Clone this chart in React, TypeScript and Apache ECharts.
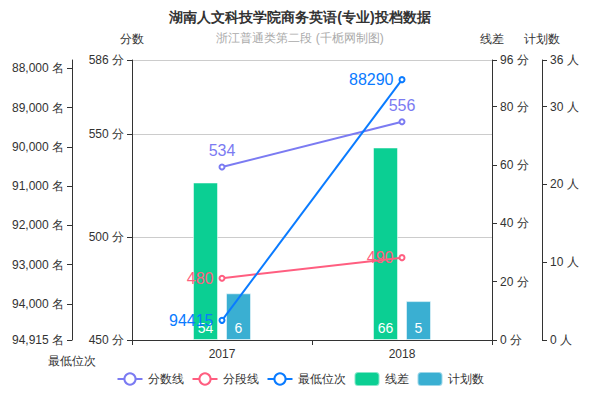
import React, { useEffect, useRef } from "react";
import * as echarts from "echarts";

const categories = ["2017", "2018"];
const scoreLine = [534, 556];
const segmentLine = [480, 490];
const minRank = [94415, 88290];
const lineDiff = [54, 66];
const planCount = [6, 5];

const rankMin = 87790;
const rankMax = 94915;
const rankTicks = [88000, 89000, 90000, 91000, 92000, 93000, 94000, 94915];

const title = "湖南人文科技学院商务英语(专业)投档数据";
const subtitle = "浙江普通类第二段 (千栀网制图)";

export default function App() {
  const ref = useRef<HTMLDivElement>(null);
  useEffect(() => {
    if (!ref.current) return;
    const chart = echarts.init(ref.current, undefined, { renderer: "svg" });
    const axisLine = { show: true, lineStyle: { color: "#333" } };
    const axisLabelBase = { color: "#333", fontSize: 12 };
    chart.setOption({
      animation: false,
      textStyle: { fontFamily: "sans-serif" },
      title: {
        text: title,
        subtext: subtitle,
        left: "center",
        top: 5,
        itemGap: 8,
        textStyle: { fontSize: 14, fontWeight: "bold", color: "#333" },
        subtextStyle: { fontSize: 12, color: "#aaa" },
      },
      legend: {
        bottom: 8,
        left: "center",
        itemWidth: 25,
        itemHeight: 14,
        textStyle: { color: "#333", fontSize: 12 },
        data: ["分数线", "分段线", "最低位次", "线差", "计划数"],
      },
      grid: { left: 132, right: 108, top: 60, bottom: 60 },
      xAxis: {
        type: "category",
        data: categories,
        axisLine,
        axisTick: { show: true, lineStyle: { color: "#333" } },
        axisLabel: { ...axisLabelBase },
      },
      yAxis: [
        {
          type: "value",
          name: "分数",
          position: "left",
          min: 450,
          max: 586,
          interval: 50,
          nameTextStyle: { color: "#333", fontSize: 12 },
          axisLine,
          axisTick: { show: true },
          axisLabel: { ...axisLabelBase, formatter: "{value} 分" },
          splitLine: { show: true, lineStyle: { color: "#ccc" } },
        },
        {
          type: "value",
          name: "最低位次",
          position: "left",
          offset: 60,
          inverse: true,
          min: rankMin,
          max: rankMax,
          nameLocation: "end",
          nameGap: 15,
          nameTextStyle: { color: "#333", fontSize: 12 },
          axisLine,
          axisTick: { show: true, customValues: rankTicks },
          axisLabel: {
            ...axisLabelBase,
            customValues: rankTicks,
            formatter: (v: number) => v.toLocaleString("en-US") + " 名",
          },
          splitLine: { show: false },
        },
        {
          type: "value",
          name: "线差",
          position: "right",
          min: 0,
          max: 96,
          interval: 20,
          nameTextStyle: { color: "#333", fontSize: 12 },
          axisLine,
          axisTick: { show: true },
          axisLabel: { ...axisLabelBase, formatter: "{value} 分" },
          splitLine: { show: false },
        },
        {
          type: "value",
          name: "计划数",
          position: "right",
          offset: 50,
          min: 0,
          max: 36,
          interval: 10,
          nameTextStyle: { color: "#333", fontSize: 12 },
          axisLine,
          axisTick: { show: true },
          axisLabel: { ...axisLabelBase, formatter: "{value} 人" },
          splitLine: { show: false },
        },
      ],
      series: [
        {
          name: "分数线",
          type: "line",
          yAxisIndex: 0,
          data: scoreLine,
          symbol: "emptyCircle",
          symbolSize: 5,
          z: 5,
          itemStyle: { color: "#7B7BF2" },
          lineStyle: { width: 2, color: "#7B7BF2" },
          label: { show: true, position: "top", fontSize: 16, color: "#7B7BF2" },
        },
        {
          name: "分段线",
          type: "line",
          yAxisIndex: 0,
          data: segmentLine,
          symbol: "emptyCircle",
          symbolSize: 5,
          z: 5,
          itemStyle: { color: "#FF5E80" },
          lineStyle: { width: 2, color: "#FF5E80" },
          label: { show: true, position: "left", fontSize: 16, color: "#FF5E80" },
        },
        {
          name: "最低位次",
          type: "line",
          yAxisIndex: 1,
          data: minRank,
          symbol: "emptyCircle",
          symbolSize: 5,
          z: 5,
          itemStyle: { color: "#0A7BFF" },
          lineStyle: { width: 2, color: "#0A7BFF" },
          label: { show: true, position: "left", fontSize: 16, color: "#0A7BFF" },
        },
        {
          name: "线差",
          type: "bar",
          yAxisIndex: 2,
          data: lineDiff,
          barWidth: 25,
          barGap: "32%",
          itemStyle: { color: "#0BCF93", borderColor: "rgba(255,255,255,0.5)", borderWidth: 1 },
          label: { show: true, position: "insideBottom", color: "#fff", fontSize: 14 },
        },
        {
          name: "计划数",
          type: "bar",
          yAxisIndex: 3,
          data: planCount,
          barWidth: 25,
          itemStyle: { color: "#3AAFD2", borderColor: "rgba(255,255,255,0.5)", borderWidth: 1 },
          label: { show: true, position: "insideBottom", color: "#fff", fontSize: 14 },
        },
      ],
    });
    return () => chart.dispose();
  }, []);
  return (
    <div
      ref={ref}
      style={{ position: "absolute", left: 0, top: 0, width: 600, height: 400 }}
    />
  );
}
